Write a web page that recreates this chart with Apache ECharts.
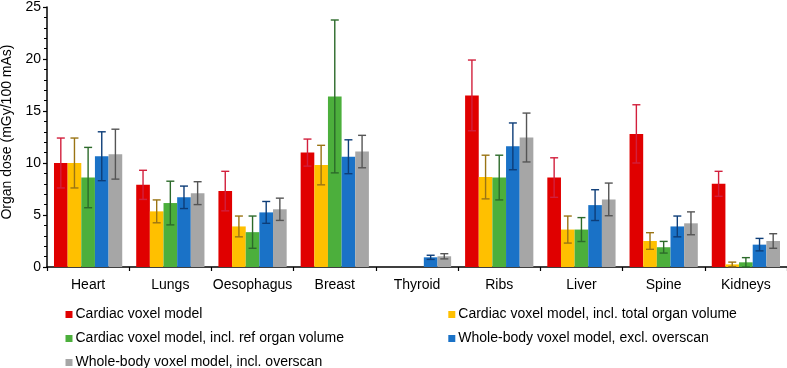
<!DOCTYPE html>
<html>
<head>
<meta charset="utf-8">
<script src="https://cdn.jsdelivr.net/npm/echarts@6/dist/echarts.min.js"></script>
<style>
  html, body { margin: 0; padding: 0; background: #fff; }
  #chart { width: 787px; height: 368px; }
</style>
</head>
<body>
<div id="chart"></div>
<script>
// organs on the x axis
const organs = ['Heart', 'Lungs', 'Oesophagus', 'Breast', 'Thyroid', 'Ribs', 'Liver', 'Spine', 'Kidneys'];

const seriesNames = [
  'Cardiac voxel model',
  'Cardiac voxel model, incl. total organ volume',
  'Cardiac voxel model, incl. ref organ volume',
  'Whole-body voxel model, excl. overscan',
  'Whole-body voxel model, incl. overscan'
];

// organ dose (mGy/100 mAs), null = not available
const cardiac      = [10.0, 7.9, 7.3, 11.0, null, 16.5, 8.6, 12.8, 8.0];
const cardiacTotal = [10.0, 5.35, 3.9, 9.8, null, 8.65, 3.6, 2.5, 0.25];
const cardiacRef   = [8.6, 6.15, 3.35, 16.4, null, 8.6, 3.6, 1.9, 0.45];
const wholeExcl    = [10.65, 6.7, 5.25, 10.6, 0.93, 11.6, 5.95, 3.9, 2.15];
const wholeIncl    = [10.85, 7.1, 5.55, 11.1, 1.03, 12.45, 6.5, 4.2, 2.5];

// error bar half widths
const cardiacErr      = [2.4, 1.4, 1.9, 1.3, null, 3.4, 1.9, 2.8, 1.2];
const cardiacTotalErr = [2.4, 1.1, 1.0, 1.9, null, 2.1, 1.3, 0.8, 0.22];
const cardiacRefErr   = [2.9, 2.1, 1.55, 7.35, null, 2.15, 1.15, 0.56, 0.45];
const wholeExclErr    = [2.35, 1.08, 1.05, 1.63, 0.2, 2.25, 1.48, 1.0, 0.6];
const wholeInclErr    = [2.4, 1.1, 1.07, 1.56, 0.25, 2.35, 1.57, 1.1, 0.7];

const values = [cardiac, cardiacTotal, cardiacRef, wholeExcl, wholeIncl];
const errors = [cardiacErr, cardiacTotalErr, cardiacRefErr, wholeExclErr, wholeInclErr];

const barColors = ['#e00000', '#ffc000', '#4caf3c', '#1a72c7', '#a6a6a6'];
const errColors = ['#d21f3c', '#9a7414', '#2c6a2a', '#0d3d78', '#555555'];

const catGap = 0.17;
const font = '"Liberation Sans", Arial, sans-serif';

function errorBar (idx) {
  return function (params, api) {
    const cat = api.value(0);
    const v = api.value(1);
    const e = api.value(2);
    const band = api.size([1, 0])[0];
    const bw = band * (1 - catGap) / 5;
    const x = api.coord([cat, 0])[0] + (idx - 2) * bw;
    const hi = api.coord([cat, v + e])[1];
    const lo = api.coord([cat, Math.max(v - e, 0)])[1];
    const cap = 4;
    const style = { stroke: errColors[idx], lineWidth: 1.4 };
    return {
      type: 'group',
      children: [
        { type: 'line', shape: { x1: x, y1: hi, x2: x, y2: lo }, style: style },
        { type: 'line', shape: { x1: x - cap, y1: hi, x2: x + cap, y2: hi }, style: style },
        { type: 'line', shape: { x1: x - cap, y1: lo, x2: x + cap, y2: lo }, style: style }
      ]
    };
  };
}

const series = [];
values.forEach((vals, i) => {
  series.push({
    name: seriesNames[i],
    type: 'bar',
    data: vals,
    barGap: '0%',
    barCategoryGap: (catGap * 100) + '%',
    itemStyle: { color: barColors[i] },
    animation: false
  });
});
values.forEach((vals, i) => {
  const data = [];
  vals.forEach((v, j) => {
    if (v !== null) data.push([j, v, errors[i][j]]);
  });
  series.push({
    type: 'custom',
    renderItem: errorBar(i),
    data: data,
    encode: { x: 0, y: 1 },
    z: 5,
    silent: true,
    animation: false
  });
});

const legendCommon = {
  orient: 'vertical',
  icon: 'rect',
  padding: 0,
  itemWidth: 7,
  itemHeight: 7,
  itemGap: 10,
  height: 80,
  selectedMode: false,
  textStyle: { fontFamily: font, fontSize: 14, color: '#000', padding: [0, 0, 0, -2] }
};

const chart = echarts.init(document.getElementById('chart'));
chart.setOption({
  animation: false,
  textStyle: { fontFamily: font },
  grid: { left: 47, right: 0, top: 7, bottom: 101, containLabel: false, outerBoundsMode: 'none' },
  legend: [
    Object.assign({ left: 65.5, top: 307.5, data: [seriesNames[0], seriesNames[2], seriesNames[4]] }, legendCommon),
    Object.assign({ left: 448.3, top: 307.5, data: [seriesNames[1], seriesNames[3]] }, legendCommon)
  ],
  xAxis: {
    type: 'category',
    data: organs,
    axisLine: { lineStyle: { color: '#000', width: 1.5 } },
    axisTick: { show: true, length: 4, lineStyle: { color: '#000', width: 1.2 } },
    axisLabel: { color: '#000', fontSize: 14, margin: 11, interval: 0 }
  },
  yAxis: {
    type: 'value',
    min: 0,
    max: 25,
    interval: 5,
    name: 'Organ dose (mGy/100 mAs)',
    nameLocation: 'middle',
    nameGap: 29,
    nameTextStyle: { color: '#000', fontSize: 14, padding: [0, 0, 0, 10] },
    axisLine: { show: true, lineStyle: { color: '#000', width: 1.5 } },
    axisTick: { show: true, length: 4, lineStyle: { color: '#000', width: 1.2 } },
    minorTick: { show: true, splitNumber: 5, length: 3, lineStyle: { color: '#000', width: 1 } },
    splitLine: { show: false },
    axisLabel: { color: '#000', fontSize: 14, margin: 6 }
  },
  series: series
});
</script>
</body>
</html>
